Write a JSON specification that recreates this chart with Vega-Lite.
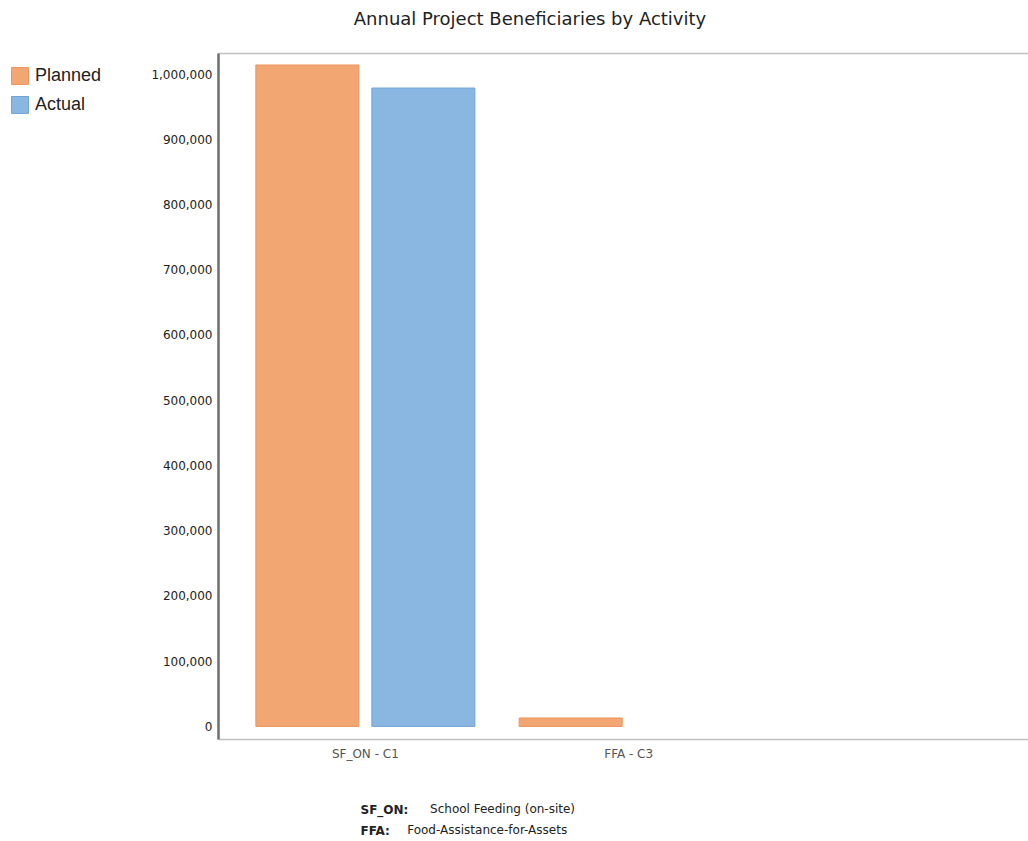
{
  "$schema": "https://vega.github.io/schema/vega-lite/v6.json",
  "autosize": {"type": "none"},
  "padding": {"left": 218, "top": 53, "right": 0, "bottom": 102},
  "width": 810,
  "height": 686,
  "background": "white",
  "title": {
    "text": "Annual Project Beneficiaries by Activity",
    "font": "DejaVu Sans",
    "fontSize": 18,
    "fontWeight": "normal",
    "color": "#222222",
    "anchor": "middle",
    "frame": "group",
    "dx": -93,
    "baseline": "alphabetic",
    "offset": 10
  },
  "config": {
    "view": {"stroke": null},
    "axis": {"grid": false, "ticks": false}
  },
  "data": {
    "values": [
      {"activity": "SF_ON - C1", "series": "Planned", "value": 1013800},
      {"activity": "SF_ON - C1", "series": "Actual", "value": 978500},
      {"activity": "FFA - C3", "series": "Planned", "value": 12900}
    ]
  },
  "resolve": {"axis": {"x": "independent"}},
  "layer": [
    {
      "mark": {"type": "bar", "strokeWidth": 1},
      "encoding": {
        "x": {
          "field": "activity",
          "type": "nominal",
          "sort": ["SF_ON - C1", "FFA - C3"],
          "scale": {"domain": ["SF_ON - C1", "FFA - C3"], "paddingInner": 0, "paddingOuter": 0.538, "align": 0.0554},
          "axis": {
            "orient": "bottom",
            "labelAngle": 0,
            "labelFont": "DejaVu Sans",
            "labelFontSize": 12,
            "labelColor": "#555555",
            "labelPadding": 9,
            "domainColor": "#c0c0c0",
            "domainWidth": 1.5,
            "title": ["\u200b\u00a0\u00a0\u00a0\u00a0\u00a0\u00a0School Feeding (on-site)", "Food-Assistance-for-Assets"],
            "titleFont": "DejaVu Sans",
            "titleFontSize": 12,
            "titleFontWeight": "normal",
            "titleColor": "#222222",
            "titleAlign": "left",
            "titleBaseline": "alphabetic",
            "titleX": 188.7,
            "titleY": 73.5,
            "titleLineHeight": 21
          }
        },
        "xOffset": {
          "field": "series",
          "type": "nominal",
          "sort": ["Planned", "Actual"],
          "scale": {"domain": ["Planned", "Actual"], "paddingInner": 0.112, "paddingOuter": 0.191}
        },
        "y": {
          "field": "value",
          "type": "quantitative",
          "scale": {"domain": [-19300, 1032200], "nice": false, "zero": false},
          "axis": {
            "title": null,
            "values": [0, 100000, 200000, 300000, 400000, 500000, 600000, 700000, 800000, 900000, 1000000],
            "format": ",d",
            "labelFont": "DejaVu Sans",
            "labelFontSize": 12,
            "labelColor": "#222222",
            "labelPadding": 6,
            "domainColor": "#6e6e6e",
            "domainWidth": 2.5
          }
        },
        "fill": {
          "field": "series",
          "type": "nominal",
          "sort": ["Planned", "Actual"],
          "scale": {"domain": ["Planned", "Actual"], "range": ["#F2A672", "#8AB7E1"]},
          "legend": {
            "title": null,
            "orient": "none",
            "legendX": -207,
            "legendY": 14,
            "padding": 0,
            "symbolType": "square",
            "symbolSize": 289,
            "symbolStrokeWidth": 1,
            "symbolOpacity": 1,
            "labelFont": "Liberation Sans",
            "labelFontSize": 18,
            "labelColor": "#222222",
            "labelOffset": 6,
            "rowPadding": 7
          }
        },
        "stroke": {
          "field": "series",
          "type": "nominal",
          "sort": ["Planned", "Actual"],
          "scale": {"domain": ["Planned", "Actual"], "range": ["#EC955E", "#70A5D9"]},
          "legend": {
            "title": null,
            "orient": "none",
            "legendX": -207,
            "legendY": 14,
            "padding": 0,
            "symbolType": "square",
            "symbolSize": 289,
            "symbolStrokeWidth": 1,
            "labelFont": "Liberation Sans",
            "labelFontSize": 18,
            "labelColor": "#222222",
            "labelOffset": 6,
            "rowPadding": 7
          }
        }
      }
    },
    {
      "mark": {"type": "rule", "opacity": 0},
      "encoding": {
        "x": {
          "field": "activity",
          "type": "nominal",
          "axis": {
            "orient": "top",
            "labels": false,
            "domainColor": "#c0c0c0",
            "domainWidth": 1.5,
            "title": ["SF_ON:", "FFA:"],
            "titleFont": "DejaVu Sans",
            "titleFontSize": 12,
            "titleFontWeight": "bold",
            "titleColor": "#222222",
            "titleAlign": "left",
            "titleBaseline": "alphabetic",
            "titleX": 142,
            "titleY": 760,
            "titleLineHeight": 21
          }
        }
      }
    }
  ]
}
